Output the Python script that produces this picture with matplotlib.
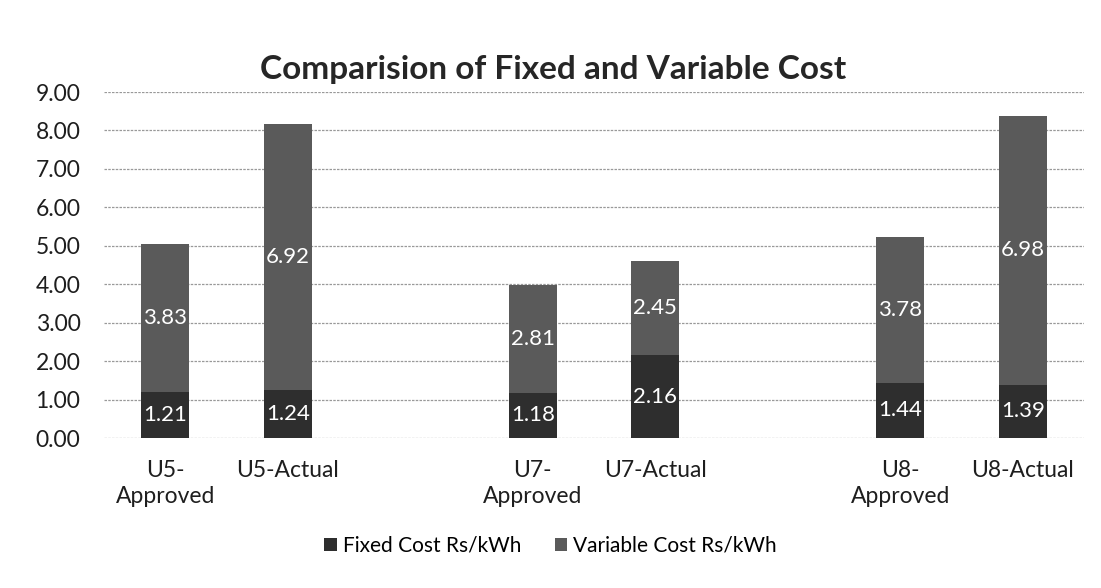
import matplotlib.pyplot as plt
import numpy as np

categories = ["U5-\nApproved", "U5-Actual", "U7-\nApproved", "U7-Actual",
              "U8-\nApproved", "U8-Actual"]
fixed_cost = [1.21, 1.24, 1.18, 2.16, 1.44, 1.39]
variable_cost = [3.83, 6.92, 2.81, 2.45, 3.78, 6.98]

# layout: empty slot between each unit pair
slots = np.array([0, 1, 3, 4, 6, 7])

plt.rcParams['font.family'] = ['Lato', 'DejaVu Sans']

fig = plt.figure(figsize=(11.01, 5.88), dpi=100)
ax = fig.add_axes([0.0945, 0.255, 0.89, 0.5885])

fixed_col = "#2e2e2e"
var_col = "#5a5a5a"

b1 = ax.bar(slots, fixed_cost, width=0.39, color=fixed_col, label="Fixed Cost Rs/kWh", zorder=3)
b2 = ax.bar(slots, variable_cost, width=0.39, bottom=fixed_cost, color=var_col,
            label="Variable Cost Rs/kWh", zorder=3)

for bars in (b1, b2):
    ax.bar_label(bars, labels=[f"{v:.2f}" for v in bars.datavalues], label_type="center",
                 color="white", fontsize=16)

ax.set_xlim(-0.5, 7.5)
ax.set_ylim(0, 9)
ax.set_yticks(np.arange(0, 10, 1))
ax.set_yticklabels([f"{v:.2f}" for v in np.arange(0, 10, 1)])
ax.set_xticks(slots)
ax.set_xticklabels(categories, linespacing=1.3)
ax.tick_params(axis="both", length=0, labelsize=16.5, colors="#1e1e1e")
ax.tick_params(axis="y", pad=17)
ax.tick_params(axis="x", pad=16)

ax.grid(axis="y", color="#999999", linewidth=0.9, linestyle=(0, (2, 1)), zorder=0)
for s in ax.spines.values():
    s.set_visible(False)

fig.text(0.502, 0.882, "Comparision of Fixed and Variable Cost", ha="center", va="center",
         fontsize=24, fontweight="bold", color="#262626")

fig.legend(handles=[b1, b2], loc="center", bbox_to_anchor=(0.5, 0.072), ncol=2, frameon=False,
           fontsize=15, handlelength=0.6, handleheight=0.6, handletextpad=0.3, columnspacing=1.6)

fig.savefig("out.png", dpi=100)
